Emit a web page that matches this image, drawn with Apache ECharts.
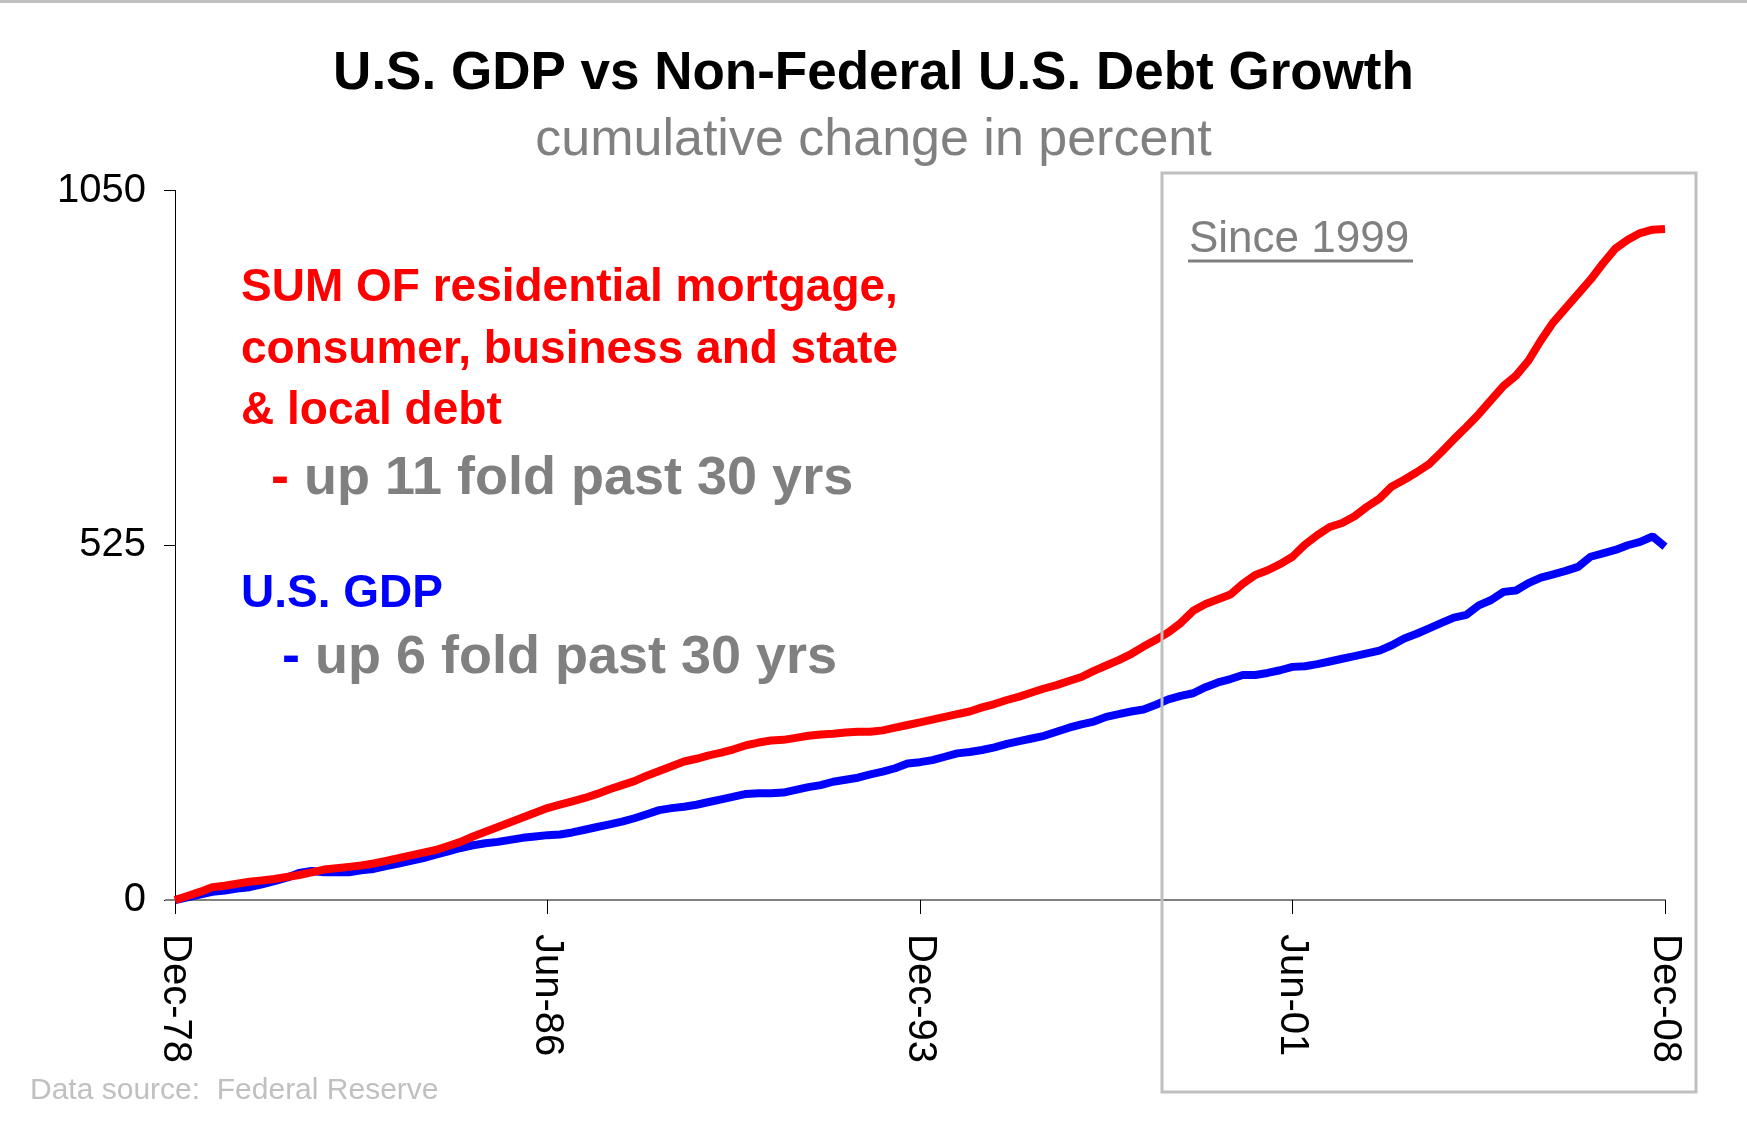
<!DOCTYPE html>
<html>
<head>
<meta charset="utf-8">
<script src="https://cdn.jsdelivr.net/npm/echarts@6/dist/echarts.min.js"></script>
<style>
html,body{margin:0;padding:0;background:#fff;}
#chart{width:1747px;height:1130px;}
</style>
</head>
<body>
<div id="chart"></div>
<script>
// Quarterly categories Dec-78 .. Dec-08
const monthNames = ['Mar','Jun','Sep','Dec'];
const categories = ['Dec-78'];
for (let y = 1979; y <= 2008; y++) {
  for (let q = 0; q < 4; q++) {
    categories.push(monthNames[q] + '-' + String(y % 100).padStart(2, '0'));
  }
}
const xTickLabels = ['Dec-78', 'Jun-86', 'Dec-93', 'Jun-01', 'Dec-08'];
const yTicks = [0, 525, 1050];

// Cumulative % change, non-federal debt (red)
const debtGrowth = [
  0, 6, 12, 19, 21, 24, 27, 29, 31, 34,
  37, 41, 45, 47, 49, 51, 54, 58, 62, 66,
  70, 74, 80, 86, 94, 101, 108, 115, 122, 129,
  136, 141, 146, 151, 157, 164, 170, 176, 184, 191,
  198, 205, 209, 214, 218, 223, 229, 233, 236, 237,
  240, 243, 245, 246, 248, 249, 249, 251, 255, 259,
  263, 267, 271, 275, 279, 285, 290, 296, 301, 307,
  313, 318, 324, 330, 339, 347, 355, 364, 375, 385,
  396, 410, 428, 438, 445, 452, 468, 481, 488, 497,
  508, 526, 540, 552, 558, 568, 582, 594, 612, 622,
  633, 645, 663, 682, 700, 719, 740, 761, 776, 798,
  828, 855, 876, 897, 918, 942, 964, 977, 987, 992,
  993
];
// Cumulative % change, U.S. GDP (blue)
const gdpGrowth = [
  0, 4, 8, 12, 14, 17, 19, 23, 28, 33,
  40, 43, 41, 41, 41, 44, 46, 50, 54, 58,
  62, 67, 72, 77, 81, 84, 86, 89, 92, 94,
  96, 97, 100, 104, 108, 112, 116, 121, 127, 133,
  136, 138, 141, 145, 149, 153, 157, 158, 158, 159,
  163, 167, 170, 175, 178, 181, 186, 190, 195, 202,
  204, 207, 212, 217, 219, 222, 226, 231, 235, 239,
  243, 249, 255, 260, 264, 271, 275, 279, 282, 289,
  297, 302, 306, 315, 322, 327, 333, 333, 336, 340,
  345, 346, 349, 353, 357, 361, 365, 369, 377, 387,
  394, 402, 410, 418, 422, 436, 444, 456, 458, 469,
  477, 482, 487, 493, 508, 513, 518, 525, 530, 538,
  523
];

const FONT = '"Liberation Sans", Arial, Helvetica, sans-serif';
const chart = echarts.init(document.getElementById('chart'));

chart.setOption({
  backgroundColor: '#ffffff',
  animation: false,
  textStyle: { fontFamily: FONT },
  grid: { left: 175, right: 82, top: 190.5, bottom: 230, containLabel: false },
  xAxis: {
    type: 'category',
    data: categories,
    boundaryGap: false,
    axisLine: { show: true, lineStyle: { color: '#808080', width: 2 } },
    axisTick: {
      show: true, length: 14, interval: 29,
      lineStyle: { color: '#000000', width: 1 }
    },
    axisLabel: {
      interval: 29, rotate: -90, margin: 34,
      fontSize: 40, color: '#000000', fontFamily: FONT,
      formatter: function (v) { return xTickLabels.indexOf(v) >= 0 ? v : ''; }
    },
    splitLine: { show: false }
  },
  yAxis: {
    type: 'value',
    min: yTicks[0], max: yTicks[2], interval: 525,
    axisLine: { show: true, lineStyle: { color: '#000000', width: 1 } },
    axisTick: { show: true, length: 11, lineStyle: { color: '#000000', width: 1 } },
    axisLabel: { fontSize: 40, color: '#000000', margin: 29, fontFamily: FONT,
      formatter: function (v) { return String(v); } },
    splitLine: { show: false }
  },
  series: [
    {
      name: 'U.S. GDP', type: 'line', data: gdpGrowth,
      showSymbol: false, symbol: 'none',
      lineStyle: { color: '#0000ff', width: 8 }, itemStyle: { color: '#0000ff' },
      z: 2
    },
    {
      name: 'Non-Federal U.S. Debt', type: 'line', data: debtGrowth,
      showSymbol: false, symbol: 'none',
      lineStyle: { color: '#ff0000', width: 8 }, itemStyle: { color: '#ff0000' },
      z: 3
    }
  ],
  graphic: [
    { type: 'rect', z: 100, shape: { x: 0, y: 0, width: 1747, height: 3 }, style: { fill: '#c0c0c0' } },
    { type: 'line', z: 100, shape: { x1: 165, y1: 900, x2: 175, y2: 900 }, style: { stroke: '#808080', lineWidth: 2 } },
    { type: 'text', z: 100, left: 'center', top: 48,
      style: { text: 'U.S. GDP vs Non-Federal U.S. Debt Growth', font: 'bold 53px ' + FONT, fill: '#000000' } },
    { type: 'text', z: 100, left: 'center', top: 115,
      style: { text: 'cumulative change in percent', font: '52px ' + FONT, fill: '#808080' } },
    { type: 'text', z: 100, style: { x: 241, y: 288, text: 'SUM OF residential mortgage,', font: 'bold 46px ' + FONT, fill: '#ff0000', textVerticalAlign: 'middle' } },
    { type: 'text', z: 100, style: { x: 241, y: 350, text: 'consumer, business and state', font: 'bold 46px ' + FONT, fill: '#ff0000', textVerticalAlign: 'middle' } },
    { type: 'text', z: 100, style: { x: 241, y: 411, text: '& local debt', font: 'bold 46px ' + FONT, fill: '#ff0000', textVerticalAlign: 'middle' } },
    { type: 'text', z: 100, style: { x: 271, y: 479, text: '{r|-}{g| up 11 fold past 30 yrs}', textVerticalAlign: 'middle',
        rich: { r: { font: 'bold 54px ' + FONT, fill: '#ff0000' }, g: { font: 'bold 54px ' + FONT, fill: '#808080' } } } },
    { type: 'text', z: 100, style: { x: 241, y: 594, text: 'U.S. GDP', font: 'bold 46px ' + FONT, fill: '#0000ff', textVerticalAlign: 'middle' } },
    { type: 'text', z: 100, style: { x: 282, y: 658, text: '{b|-}{g| up 6 fold past 30 yrs}', textVerticalAlign: 'middle',
        rich: { b: { font: 'bold 54px ' + FONT, fill: '#0000ff' }, g: { font: 'bold 54px ' + FONT, fill: '#808080' } } } },
    { type: 'rect', z: 100, shape: { x: 1162, y: 173, width: 534, height: 919 }, style: { fill: 'none', stroke: '#c0c0c0', lineWidth: 3 } },
    { type: 'text', z: 100, style: { x: 1189, y: 240, text: 'Since 1999', font: '44px ' + FONT, fill: '#808080', textVerticalAlign: 'middle' } },
    { type: 'line', z: 100, shape: { x1: 1188, y1: 261, x2: 1413, y2: 261 }, style: { stroke: '#808080', lineWidth: 3 } },
    { type: 'text', z: 100, style: { x: 30, y: 1091, text: 'Data source:  Federal Reserve', font: '30px ' + FONT, fill: '#c0c0c0', textVerticalAlign: 'middle' } }
  ]
});
</script>
</body>
</html>
